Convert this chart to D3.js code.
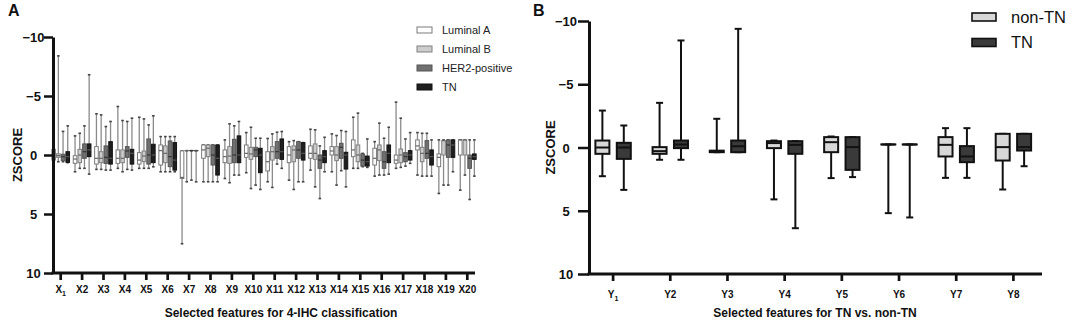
<!DOCTYPE html>
<html><head><meta charset="utf-8">
<script src="https://cdn.jsdelivr.net/npm/d3@7"></script>
<style>
body{margin:0;background:#fff}
svg{display:block}
text{font-family:"Liberation Sans",Arial,Helvetica,sans-serif}
</style>
</head><body>
<svg id="c" width="1084" height="321"></svg>
<script>
// ---------- Panel A data: [lowest, q1, median, q3, highest] z-scores ----------
const catsA = ["X1","X2","X3","X4","X5","X6","X7","X8","X9","X10","X11","X12","X13","X14","X15","X16","X17","X18","X19","X20"];
const seriesA = ["Luminal A","Luminal B","HER2-positive","TN"];
const luminalA = [
  [-2.6,-0.48,-0.14,0.43,0.7],[-1.62,0.06,0.34,0.71,1.42],[-3.49,-0.71,0.28,0.77,1.22],[-4.11,-0.43,0.28,0.71,1.13],
  [-3.2,-0.2,0.43,0.77,1.13],[-1.56,-0.85,-0.37,0.85,1.42],[-0.35,-0.35,1.9,1.99,7.52],[-0.85,-0.85,-0.43,0.28,2.27],
  [-1.28,-0.43,0.14,0.65,1.99],[-1.9,-0.85,-0.14,0.2,1.5],[-1.4,-0.28,0.57,1.35,2.27],[-1.13,-0.71,0,0.65,2.13],
  [-2.18,-0.77,-0.14,0.28,1.28],[-1.79,-0.71,-0.34,0,1.42],[-3.2,-1.28,-0.43,0.14,1.13],[-1.13,-0.57,0.28,0.85,1.79],
  [-4.48,0,0.43,0.71,1.13],[-1.9,-1.28,-0.77,-0.43,1.7],[-1.28,-0.09,0.2,0.99,3.26],[-1.28,-1.28,-1.28,0,2.98]
];
const luminalB = [
  [-8.4,-0.1,0.05,0.2,0.57],[-1.84,-0.48,0,0.65,1.13],[-3.4,-0.28,0.28,0.65,1.22],[-2.92,-0.43,0.28,0.65,1.42],
  [-3.06,-0.34,0.09,0.57,1.13],[-1.56,-0.77,-0.14,0.65,1.42],[-0.37,-0.37,-0.37,-0.37,2.27],[-0.85,-0.85,-0.57,0.14,2.27],
  [-2.64,-0.71,0.09,0.71,2.35],[-2.35,-0.65,-0.09,0.37,2.84],[-1.79,-0.71,-0.28,0.43,2.75],[-1.22,-0.77,-0.43,0.57,2.92],
  [-2.13,-0.94,-0.14,0.37,2.7],[-1.65,-0.71,0,0.48,2.55],[-3.55,-0.85,0,0.57,1.13],[-2.7,-0.85,-0.43,0.48,1.7],
  [-3.12,-0.51,0,0.65,1.05],[-1.84,-0.65,-0.14,0.57,1.79],[-1.28,-1.22,-1.22,0,2.55],[-1.28,-1.28,-1.28,0,1.7]
];
const her2pos = [
  [-2.0,-0.06,0.14,0.48,0.57],[-2.47,-0.94,-0.28,0.28,1.13],[-2.41,-0.77,0.2,0.71,1.28],[-2.84,-0.71,-0.34,0.2,1.22],
  [-2.55,-1.36,0,0.77,1.13],[-1.56,-1.19,0.14,0.99,1.42],[-0.37,-0.37,-0.37,-0.37,2.13],[-0.85,-0.85,0,0.85,2.27],
  [-2.47,-1.33,0,0.65,1.7],[-1.42,-0.65,-0.43,0.14,2.55],[-1.93,-1.13,-0.28,0.28,0.77],[-1.13,-1.13,-0.43,0.28,2.27],
  [-0.77,0,0.43,1.13,3.69],[-2.07,-0.99,-0.65,0.28,1.33],[-0.14,-0.09,0.43,0.94,0.99],[-1.42,-0.28,0.57,1.13,1.7],
  [-1.36,-0.2,0.14,0.57,0.94],[-1.84,-1.22,-0.14,0.28,1.79],[-1.28,-1.28,-0.85,0.2,2.55],[-1.28,0,0.28,1.13,3.77]
];
const tnA = [
  [-2.47,-0.28,0.14,0.62,0.65],[-6.8,-0.94,-0.43,0.14,1.62],[-2.84,-1.13,0.28,0.77,1.28],[-3.12,-0.48,-0.14,0.77,1.28],
  [-3.32,-0.91,0,0.65,1.0],[-1.56,-1.05,0.43,1.28,1.42],[-0.37,-0.37,-0.37,-0.37,2.27],[-0.85,-0.85,0.28,1.7,2.27],
  [-2.84,-1.62,0,0.65,1.7],[-1.42,-0.57,0,1.5,2.92],[-1.99,-1.36,-0.28,0.37,1.13],[-1.05,-1.05,-0.14,0.43,2.27],
  [-1.5,-0.37,0.14,0.65,1.42],[-1.99,-0.23,0,1.19,2.7],[-1.36,0.09,0.57,0.94,1.05],[-2.35,-0.85,-0.14,0.65,1.62],
  [-1.9,-0.37,0,0.43,0.71],[-1.28,-0.43,0.14,0.85,1.79],[-1.28,-1.28,-0.85,0.2,1.42],[-1.28,-0.09,0.14,0.37,1.79]
];

// ---------- Panel B data ----------
const catsB = ["Y1","Y2","Y3","Y4","Y5","Y6","Y7","Y8"];
const seriesB = ["non-TN","TN"];
const nonTN = [
  [-2.92,-0.55,0,0.5,2.27],[-3.53,-0.03,0.29,0.5,0.97],[-2.27,0.25,0.3,0.37,0.37],[-0.55,-0.5,-0.35,0.05,4.1],
  [-0.87,-0.82,-0.42,0.37,2.42],[-0.24,-0.24,-0.24,-0.24,5.19],[-1.53,-0.82,-0.21,0.71,2.4],[-1.08,-1.08,-0.03,1.03,3.32]
];
const tnB = [
  [-1.74,-0.37,0,0.9,3.35],[-8.46,-0.55,-0.24,0.05,0.97],[-9.38,-0.55,-0.1,0.37,0.37],[-0.5,-0.5,-0.21,0.5,6.38],
  [-0.82,-0.82,-0.03,1.77,2.34],[-0.24,-0.24,-0.24,-0.24,5.53],[-1.53,-0.11,0.71,1.16,2.4],[-1.08,-1.08,-0.03,0.24,1.48]
];

const yTicks = [-10,-5,0,5,10];
const yDomain = [-10,10];

// ---------- drawing ----------
const svg = d3.select("#c");
const FONT = '"Liberation Sans",Arial,Helvetica,sans-serif';

function tickLabel(sel){
  sel.each(function(d,i){
    const t = d3.select(this);
    if(/1$/.test(d) && d.length===2){
      t.text(d[0]);
      t.append("tspan").attr("font-size","7px").attr("dy","3").text("1");
    }
  });
}

function drawBoxes(g, cats, data, x, sub, name, y, st){
  const bw = st.boxW;
  const grp = g.append("g");
  cats.forEach((c,i)=>{
    const v = data[i];
    const cx = x(c) + x.bandwidth()/2 + sub(name) + sub.bandwidth()/2;
    grp.append("line").attr("x1",cx).attr("x2",cx).attr("y1",y(v[0])).attr("y2",y(v[4]))
      .attr("stroke",st.whisker).attr("stroke-width",st.whiskerW);
    [v[0],v[4]].forEach(e=>{
      grp.append("line").attr("x1",cx-st.capW/2).attr("x2",cx+st.capW/2).attr("y1",y(e)).attr("y2",y(e))
        .attr("stroke",st.capColor).attr("stroke-width",st.capSW);
    });
    const y1 = y(v[1]), y3 = y(v[3]);
    grp.append("rect").attr("x",cx-bw/2).attr("y",Math.min(y1,y3)).attr("width",bw)
      .attr("height",Math.max(Math.abs(y3-y1),0.01))
      .attr("fill",st.fill).attr("stroke",st.stroke).attr("stroke-width",st.strokeW);
    grp.append("line").attr("x1",cx-bw/2).attr("x2",cx+bw/2).attr("y1",y(v[2])).attr("y2",y(v[2]))
      .attr("stroke",st.median).attr("stroke-width",st.medianW);
  });
}

function drawYAxis(g, y, xPos, tickLen, labelX, titleX){
  const ax = g.append("g").attr("transform",`translate(${xPos},0)`)
    .call(d3.axisLeft(y).tickValues(yTicks).tickSize(tickLen).tickSizeOuter(0).tickFormat(d3.format("d")));
  ax.select(".domain").attr("stroke","#111").attr("stroke-width",3);
  ax.selectAll(".tick line").attr("stroke","#111").attr("stroke-width",2.5);
  ax.selectAll(".tick text").attr("font-family",FONT).attr("font-weight","bold").attr("font-size","13px")
    .attr("fill","#111").attr("text-anchor","middle").attr("x",labelX - xPos).attr("dy","0.36em");
  g.append("text").attr("transform",`translate(${titleX},${y(0)}) rotate(-90)`)
    .attr("text-anchor","middle").attr("dy","0.36em").attr("font-weight","bold").attr("font-size","13px")
    .attr("fill","#111").text("ZSCORE");
}

function drawXAxis(g, x, yPos, x0, x1, labelY, title, titleX){
  const ax = g.append("g").attr("transform",`translate(0,${yPos})`)
    .call(d3.axisBottom(x).tickSize(7).tickSizeOuter(0));
  ax.select(".domain").remove();
  ax.selectAll(".tick line").attr("stroke","#111").attr("stroke-width",2.7);
  ax.selectAll(".tick text").attr("font-family",FONT).attr("font-weight","bold").attr("font-size","10px")
    .attr("fill","#111").attr("y",labelY - yPos).attr("dy",null).call(tickLabel);
  g.append("line").attr("x1",x0-1.5).attr("x2",x1).attr("y1",yPos).attr("y2",yPos)
    .attr("stroke","#111").attr("stroke-width",3);
  g.append("text").attr("x",titleX).attr("y",317).attr("text-anchor","middle")
    .attr("font-weight","bold").attr("font-size","12px").attr("fill","#111").text(title);
}

// ----- Panel A -----
const gA = svg.append("g");
const A = {left:53, right:475, top:37, bottom:273};
const yA = d3.scaleLinear().domain(yDomain).range([A.top, A.bottom]);
const xA = d3.scaleBand().domain(catsA).range([A.left-3, A.right+3]);
const subA = d3.scaleBand().domain(seriesA).range([-9.4, 9.4]);
const stylesA = {
  "Luminal A":     {fill:"#ffffff", stroke:"#7a7a7a", median:"#666"},
  "Luminal B":     {fill:"#cdcdcd", stroke:"#808080", median:"#666"},
  "HER2-positive": {fill:"#707070", stroke:"#555555", median:"#333"},
  "TN":            {fill:"#1f1f1f", stroke:"#111111", median:"#555"}
};
const dataA = {"Luminal A":luminalA, "Luminal B":luminalB, "HER2-positive":her2pos, "TN":tnA};
seriesA.forEach(s=>{
  drawBoxes(gA, catsA, dataA[s], xA, subA, s, yA, Object.assign({
    boxW:3.6, strokeW:1, medianW:1.2, whisker:"#8a8a8a", whiskerW:1.3, capW:2.6, capColor:"#444", capSW:1.6
  }, stylesA[s]));
});
drawYAxis(gA, yA, A.left, 9, 33.5, 17);
drawXAxis(gA, xA, A.bottom, A.left, A.right, 293, "Selected features for 4-IHC classification", 281);

// legend A
const legA = gA.append("g");
seriesA.forEach((s,i)=>{
  const yy = 30 + i*19;
  legA.append("rect").attr("x",417).attr("y",yy-3).attr("width",15).attr("height",6)
    .attr("fill",stylesA[s].fill).attr("stroke",stylesA[s].stroke).attr("stroke-width",1);
  legA.append("text").attr("x",442).attr("y",yy).attr("dy","0.36em").attr("font-size","11px")
    .attr("fill","#222").text(s);
});

// ----- Panel B -----
const gB = svg.append("g");
const B = {left:589, right:1042, top:21, bottom:274};
const yB = d3.scaleLinear().domain(yDomain).range([B.top, B.bottom]);
const xB = d3.scaleBand().domain(catsB).range([B.left-4.5, B.right]);
const subB = d3.scaleBand().domain(seriesB).range([-21.4, 21.4]);
const stylesB = {
  "non-TN": {fill:"#d8d8d8"},
  "TN":     {fill:"#3a3a3a"}
};
const dataB = {"non-TN":nonTN, "TN":tnB};
seriesB.forEach(s=>{
  drawBoxes(gB, catsB, dataB[s], xB, subB, s, yB, {
    boxW:14, fill:stylesB[s].fill, stroke:"#111", strokeW:2, median:"#111", medianW:2,
    whisker:"#111", whiskerW:2, capW:7, capColor:"#111", capSW:2
  });
});
drawYAxis(gB, yB, B.left, 11, 566, 550);
drawXAxis(gB, xB, B.bottom, B.left, B.right, 298, "Selected features for TN vs. non-TN", 815);

// legend B
seriesB.forEach((s,i)=>{
  const yy = 17 + i*25.5;
  gB.append("rect").attr("x",972).attr("y",yy-4).attr("width",24).attr("height",8)
    .attr("fill",stylesB[s].fill).attr("stroke","#111").attr("stroke-width",1.6);
  gB.append("text").attr("x",1011).attr("y",yy).attr("dy","0.36em").attr("font-size","16.5px")
    .attr("fill","#111").text(s);
});

// panel letters
svg.append("text").attr("x",8).attr("y",16).attr("font-weight","bold").attr("font-size","16px").attr("fill","#111").text("A");
svg.append("text").attr("x",533).attr("y",16).attr("font-weight","bold").attr("font-size","16px").attr("fill","#111").text("B");
</script>
</body></html>
